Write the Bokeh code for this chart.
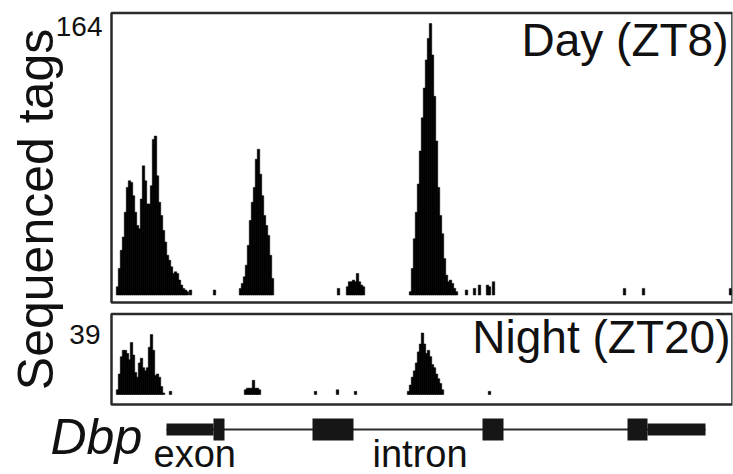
import math
from bokeh.plotting import figure
from bokeh.layouts import column
from bokeh.models import Range1d, BoxAnnotation, Label
from bokeh.embed import file_html
from bokeh.resources import INLINE

# ---------------- data (positions along the Dbp locus, arbitrary units) -------------
DAY_POS = [6, 8, 10, 12, 14, 16, 18, 20, 22, 24, 26, 28, 30, 32, 34, 36, 38, 40, 42, 44,
           46, 48, 50, 52, 54, 56, 58, 60, 62, 64, 66, 68, 70, 72, 74, 76, 79, 103,
           129, 131, 133, 135, 137, 139, 141, 143, 145, 147, 149, 151, 153, 155, 157, 159, 161,
           227, 236, 238, 240, 242, 244, 246, 248, 250, 252,
           299, 301, 303, 305, 307, 309, 311, 313, 315, 317, 319, 321, 323, 325, 327, 329, 331,
           333, 335, 337, 339, 341, 343, 345,
           355, 363, 368, 376, 378, 382, 513, 532, 619]
DAY_TAGS = [5, 16, 27, 35, 50, 65, 69, 68, 60, 50, 42, 40, 58, 78, 69, 55, 55, 66, 94, 96,
            72, 56, 48, 39, 32, 24, 21, 17, 13, 14, 13, 9, 6, 4, 3, 2, 3, 3,
            4, 7, 11, 18, 30, 45, 56, 65, 82, 88, 73, 60, 48, 42, 36, 24, 10,
            4, 5, 8, 8, 9, 8, 13, 8, 6, 5,
            2, 16, 34, 50, 67, 87, 107, 125, 142, 155, 164, 145, 120, 93, 65, 48, 37,
            22, 12, 8, 9, 7, 4, 2,
            3, 4, 6, 6, 5, 8, 4, 4, 4]

NIGHT_POS = [6, 8, 10, 12, 14, 16, 18, 20, 22, 24, 26, 28, 30, 32, 34, 36, 38, 40, 42, 44,
             46, 48, 50, 52, 59,
             134, 136, 138, 140, 142, 144, 146, 148, 204, 226, 244,
             297, 299, 301, 303, 305, 307, 309, 311, 313, 315, 317, 319, 321, 323, 325, 327,
             329, 331, 378]
NIGHT_TAGS = [3, 13, 24, 28, 28, 26, 22, 33, 25, 14, 11, 20, 23, 17, 15, 17, 30, 38, 28, 12,
              13, 11, 5, 1, 2,
              3, 4, 4, 4, 9, 4, 4, 3, 2, 3, 2,
              2, 6, 11, 15, 20, 27, 32, 39, 32, 26, 28, 24, 19, 17, 13, 10,
              7, 3, 2]

DAY_MAX = 164
NIGHT_MAX = 39
TRACK_LABELS = ["Day (ZT8)", "Night (ZT20)"]
Y_LABEL = "Sequenced tags"
GENE_NAME = "Dbp"

EXON_START = [102, 201, 371, 516]
EXON_END = [113, 242, 392, 536]
UTR_START = [55, 536]
UTR_END = [102, 594]
GENE_START, GENE_END = 55, 594

LOCUS = (0, 621)

# ---------------- layout (pixels; 1 locus unit = 1 px) ----------------
W = 733
LEFT = 111          # room left of the locus inside the frame
MAIN_H = 408
GENE_H = 66
BL = 0.41           # empirical baseline correction (fraction of font size)

# day panel (px from top): box 12.5..302, baseline 294.5, max at 23
day_ppc = (294.5 - 23) / DAY_MAX
day_range = Range1d((294.5 - MAIN_H) / day_ppc, 294.5 / day_ppc)
day_box = ((294.5 - 302) / day_ppc, (294.5 - 12.5) / day_ppc)
# night panel: box 313.5..404, baseline 394, max at 332.5
night_ppc = (394 - 332.5) / NIGHT_MAX
night_range = Range1d((394 - MAIN_H) / night_ppc, 394 / night_ppc)
night_box = ((394 - 404) / night_ppc, (394 - 313.5) / night_ppc)

FONT = "Liberation Sans"
INK = "#111111"
BOX = "#2a2a2a"

xr = Range1d(LOCUS[0] - LEFT, LOCUS[1])
p = figure(width=W, height=MAIN_H, x_range=xr, y_range=day_range,
           output_backend="svg", toolbar_location=None, x_axis_type=None, y_axis_type=None,
           min_border_left=0, min_border_right=1, min_border_top=0, min_border_bottom=0)
p.extra_y_ranges = {"night": night_range}
p.outline_line_color = None
p.xgrid.visible = False
p.ygrid.visible = False
p.background_fill_color = "white"
p.border_fill_color = "white"

p.vbar(x=DAY_POS, top=DAY_TAGS, bottom=0, width=2.5, fill_color="black",
       line_color="black", line_width=0.5)
p.vbar(x=NIGHT_POS, top=NIGHT_TAGS, bottom=0, width=2.5, fill_color="black",
       line_color="black", line_width=0.5, y_range_name="night")

p.add_layout(BoxAnnotation(left=LOCUS[0], bottom=day_box[0], top=day_box[1], fill_alpha=0,
                           line_color=BOX, line_alpha=1.0, line_width=2.5))
p.add_layout(BoxAnnotation(left=LOCUS[0], bottom=night_box[0], top=night_box[1], fill_alpha=0,
                           line_color=BOX, line_alpha=1.0, line_width=2.5, y_range_name="night"))

p.add_layout(Label(x=LOCUS[0], y=DAY_MAX, text=str(DAY_MAX), x_offset=-9,
                   y_offset=-(14 - BL * 28), text_align="right", text_baseline="alphabetic",
                   text_font=FONT, text_font_size="28px", text_color=INK))
p.add_layout(Label(x=LOCUS[0], y=NIGHT_MAX, text=str(NIGHT_MAX), x_offset=-11,
                   y_offset=-(12.5 - BL * 28), text_align="right", text_baseline="alphabetic",
                   text_font=FONT, text_font_size="28px", text_color=INK, y_range_name="night"))
p.add_layout(Label(x=LOCUS[1], y=day_box[1], text=TRACK_LABELS[0], x_offset=-4,
                   y_offset=-(45.5 - BL * 46), text_align="right", text_baseline="alphabetic",
                   text_font=FONT, text_font_size="46px", text_color=INK))
p.add_layout(Label(x=LOCUS[1], y=night_box[1], text=TRACK_LABELS[1], x_offset=-2,
                   y_offset=-(41.5 - BL * 46), text_align="right", text_baseline="alphabetic",
                   text_font=FONT, text_font_size="46px", text_color=INK, y_range_name="night"))
# rotated y label centred between the two panels
p.add_layout(Label(x=LOCUS[0], y=day_box[1], text=Y_LABEL, x_offset=-76, y_offset=-196.5,
                   angle=math.pi / 2, text_align="center", text_baseline="middle",
                   text_font=FONT, text_font_size="50px", text_color=INK))

# ---------------- gene model ----------------
g_top = 21 / 22
g = figure(width=W, height=GENE_H, x_range=xr, y_range=Range1d(g_top - GENE_H / 22, g_top),
           output_backend="svg", toolbar_location=None, x_axis_type=None, y_axis_type=None,
           min_border_left=0, min_border_right=1, min_border_top=0, min_border_bottom=0)
g.outline_line_color = None
g.xgrid.visible = False
g.ygrid.visible = False
g.segment(x0=[GENE_START], y0=[0], x1=[GENE_END], y1=[0], line_color=BOX, line_width=2)
g.quad(left=UTR_START, right=UTR_END, bottom=-0.27, top=0.27, fill_color="#161616", line_color=None)
g.quad(left=EXON_START, right=EXON_END, bottom=-0.5, top=0.5, fill_color="#161616", line_color=None)

g.add_layout(Label(x=-61, y=-(28 - BL * 50) / 22, text=GENE_NAME, text_align="left",
                   text_baseline="alphabetic", text_font=FONT, text_font_size="50px",
                   text_font_style="italic", text_color=INK))
g.add_layout(Label(x=42, y=-(40 - BL * 38) / 22, text="exon", text_align="left",
                   text_baseline="alphabetic", text_font=FONT, text_font_size="38px",
                   text_color=INK))
g.add_layout(Label(x=261, y=-(40 - BL * 38) / 22, text="intron", text_align="left",
                   text_baseline="alphabetic", text_font=FONT, text_font_size="38px",
                   text_color=INK))

layout = column(p, g, spacing=0)
open("out.html", "w").write(file_html(layout, INLINE))
